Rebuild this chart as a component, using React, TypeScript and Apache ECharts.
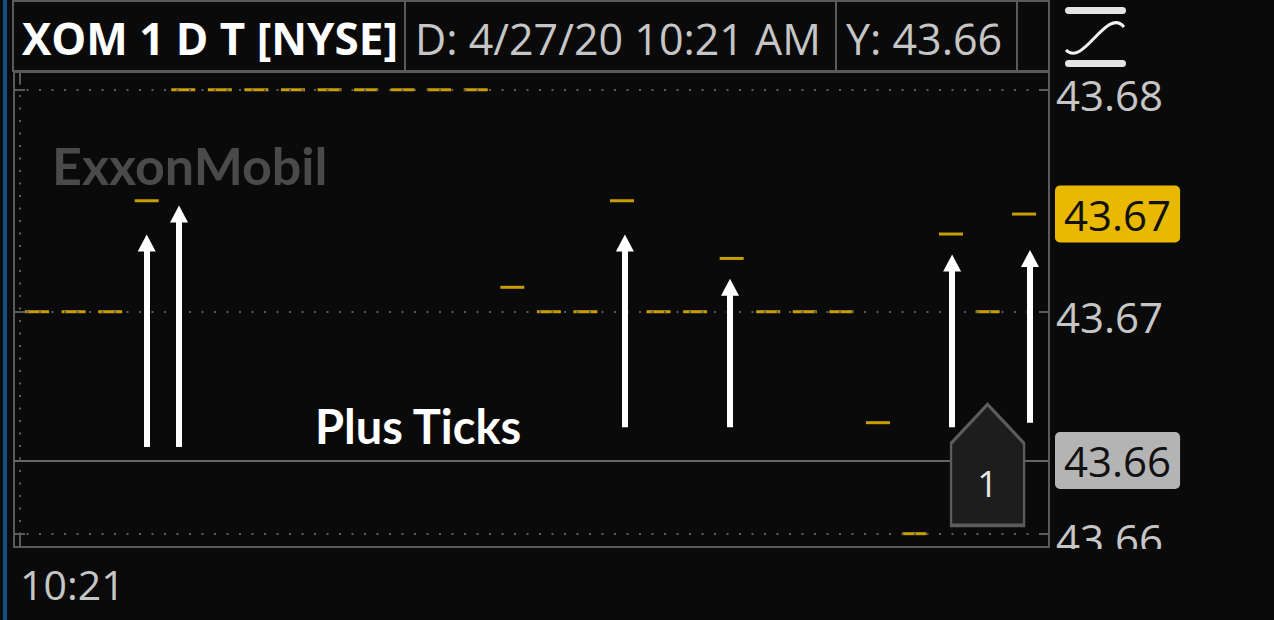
import React, { useEffect, useRef } from "react";
import * as echarts from "echarts";

// ---- data ----
const tickPrices = [
  43.67, 43.67, 43.67, 43.675,
  43.68, 43.68, 43.68, 43.68, 43.68, 43.68, 43.68, 43.68, 43.68,
  43.6711, 43.67, 43.67, 43.675, 43.67, 43.67, 43.6724,
  43.67, 43.67, 43.67, 43.665, 43.66, 43.6735, 43.67, 43.6744,
];
const tickIndex = tickPrices.map((_, i) => i);
const gridPrices = [43.66, 43.67, 43.68];
const timeGridPositions = [-0.465];
const timeLabels = ["10:21"];
const lastPrice = tickPrices[tickPrices.length - 1];
const cursorPrice = 43.6633;
const headerSymbol = "XOM 1 D T [NYSE]";
const cursorDate = "4/27/20 10:21 AM";
const tradeMarkerTick = [26];
const tradeMarkerPrice = [43.6631];
const tradeMarkerCount = [1];
const plusTickX = [3, 3.884, 16.08, 18.955, 25.03, 27.16];
const plusTickBase = [43.6639, 43.6639, 43.6648, 43.6648, 43.6648, 43.665];
const plusTickHead = [43.6731, 43.6744, 43.6731, 43.6711, 43.6722, 43.6724];
const annotationText = "Plus Ticks";
const logoText = "ExxonMobil";

const xMin = -0.63;
const xMax = 27.68;
const yMin = 43.6594;
const yMax = 43.6808;

const BG = "#0a0a0a";
const FRAME = "#5a5a5a";
const LABEL = "#c6c6c6";
const GOLD = "#f7c300";

export default function App() {
  const ref = useRef<HTMLDivElement>(null);
  useEffect(() => {
    document.body.style.margin = "0";
    document.body.style.background = BG;
    const chart = echarts.init(ref.current!, undefined, { renderer: "svg" });
    const fmtTime = (v: number) => {
      const k = timeGridPositions.findIndex((p) => Math.abs(p - v) < 1e-6);
      return k >= 0 ? timeLabels[k] : "";
    };
    const priceLabel = (bg: string) => ({
      show: true,
      position: "end",
      distance: 6,
      formatter: (p: any) => Number(p.value).toFixed(2),
      backgroundColor: bg,
      borderRadius: 5,
      padding: [8, 9, 7, 9],
      color: "#111111",
      fontSize: 42,
      lineHeight: 42,
      fontFamily: "Open Sans",
    });
    const option: any = {
      animation: false,
      backgroundColor: BG,
      grid: { left: 14, right: 225, top: 72, bottom: 73, containLabel: false },
      xAxis: [
        {
          type: "value",
          position: "bottom",
          min: xMin,
          max: xMax,
          axisLine: { show: true, onZero: false, lineStyle: { color: FRAME, width: 2 } },
          axisTick: { show: true, inside: true, length: 12, customValues: timeGridPositions, lineStyle: { color: FRAME, width: 2 } },
          axisLabel: {
            show: true,
            customValues: timeGridPositions,
            formatter: (v: number) => fmtTime(v),
            align: "left",
            margin: 16,
            color: LABEL,
            fontSize: 41,
            fontFamily: "Open Sans",
          },
          splitLine: { show: false },
        },
        {
          type: "value",
          position: "top",
          min: xMin,
          max: xMax,
          axisLine: { show: true, onZero: false, lineStyle: { color: FRAME, width: 2 } },
          axisTick: { show: true, inside: true, length: 11, customValues: timeGridPositions, lineStyle: { color: FRAME, width: 2 } },
          axisLabel: { show: false },
          splitLine: { show: false },
        },
      ],
      yAxis: [
        {
          type: "value",
          position: "right",
          min: yMin,
          max: yMax,
          axisLine: { show: true, onZero: false, lineStyle: { color: FRAME, width: 2 } },
          axisTick: { show: true, inside: true, length: 9, customValues: gridPrices, lineStyle: { color: FRAME, width: 2 } },
          axisLabel: {
            show: true,
            customValues: gridPrices,
            formatter: (v: number) => "{p|" + v.toFixed(2) + "}",
            margin: 7,
            rich: {
              p: { color: LABEL, fontSize: 42, fontFamily: "Open Sans", padding: [10, 0, 0, 0] },
            },
          },
          splitLine: { show: false },
        },
        {
          type: "value",
          position: "left",
          min: yMin,
          max: yMax,
          axisLine: { show: true, onZero: false, lineStyle: { color: FRAME, width: 2 } },
          axisTick: { show: true, inside: true, length: 11, customValues: gridPrices, lineStyle: { color: FRAME, width: 2 } },
          axisLabel: { show: false },
          splitLine: { show: false },
        },
      ],
      series: [
        {
          type: "scatter",
          data: [],
          silent: true,
          markLine: {
            silent: true,
            symbol: "none",
            precision: 4,
            label: { show: false },
            lineStyle: { type: [2, 10.5], color: "#5e5e5e", width: 2, cap: "butt" },
            data: [
              ...gridPrices.map((p) => ({ yAxis: p })),
              ...timeGridPositions.map((x) => ({ xAxis: x })),
            ],
          },
        },
        {
          type: "scatter",
          data: [],
          silent: true,
          markLine: {
            silent: true,
            symbol: "none",
            precision: 4,
            data: [
              {
                yAxis: cursorPrice,
                lineStyle: { type: "solid", color: "#666666", width: 2 },
                label: priceLabel("#b4b4b4"),
              },
              {
                yAxis: lastPrice,
                lineStyle: { color: "rgba(0,0,0,0)", width: 0 },
                label: priceLabel("#e8b900"),
              },
            ],
          },
        },
        {
          type: "scatter",
          name: "ticks",
          data: tickIndex.map((i) => [i, tickPrices[i]]),
          symbol: "rect",
          symbolSize: [24, 3],
          itemStyle: { color: GOLD },
          z: 3,
          silent: true,
        },
        {
          type: "scatter",
          data: [],
          silent: true,
          z: 5,
          markPoint: {
            silent: true,
            symbol: "path://M36.5,0 L73,39 L73,121 L0,121 L0,39 Z",
            symbolSize: [73, 121],
            itemStyle: { color: "#1d1d1d", borderColor: "#5c5c5c", borderWidth: 3 },
            label: {
              show: true,
              position: "inside",
              formatter: "{c}",
              offset: [0, 19],
              color: "#e6e6e6",
              fontSize: 36,
              fontFamily: "Open Sans",
            },
            data: tradeMarkerTick.map((t, k) => ({ coord: [t, tradeMarkerPrice[k]], value: tradeMarkerCount[k] })),
          },
        },
        {
          type: "scatter",
          data: [],
          silent: true,
          z: 6,
          markLine: {
            silent: true,
            symbol: ["none", "triangle"],
            symbolSize: [18, 17],
            precision: 4,
            label: { show: false },
            lineStyle: { type: "solid", color: "#ffffff", width: 6, opacity: 1 },
            itemStyle: { color: "#ffffff" },
            data: plusTickX.map((x, k) => [
              { coord: [x, plusTickBase[k]] },
              { coord: [x, plusTickHead[k]] },
            ]),
          },
        },
      ],
      graphic: [
        { type: "rect", z: 1, shape: { x: 3, y: 0, width: 4, height: 620 }, style: { fill: "#134f80" } },
        { type: "rect", z: 1, shape: { x: 13, y: 1, width: 1036, height: 70 }, style: { fill: "none", stroke: FRAME, lineWidth: 2 } },
        { type: "line", z: 1, shape: { x1: 405, y1: 1, x2: 405, y2: 71 }, style: { stroke: FRAME, lineWidth: 2 } },
        { type: "line", z: 1, shape: { x1: 836, y1: 1, x2: 836, y2: 71 }, style: { stroke: FRAME, lineWidth: 2 } },
        { type: "line", z: 1, shape: { x1: 1017, y1: 1, x2: 1017, y2: 71 }, style: { stroke: FRAME, lineWidth: 2 } },
        { type: "line", z: 1, shape: { x1: 1049, y1: 0, x2: 1049, y2: 72 }, style: { stroke: FRAME, lineWidth: 2 } },
        {
          type: "text", z: 2, x: 22, y: 38,
          style: { text: headerSymbol, fill: "#ffffff", fontSize: 44, fontWeight: "bold", fontFamily: "Open Sans", verticalAlign: "middle" },
        },
        {
          type: "text", z: 2, x: 415, y: 38,
          style: { text: "D: " + cursorDate, fill: LABEL, fontSize: 43, fontFamily: "Open Sans", verticalAlign: "middle" },
        },
        {
          type: "text", z: 2, x: 846, y: 38,
          style: { text: "Y: " + cursorPrice.toFixed(2), fill: LABEL, fontSize: 43, fontFamily: "Open Sans", verticalAlign: "middle" },
        },
        { type: "rect", z: 2, shape: { x: 1065, y: 7, width: 61, height: 7, r: 3.5 }, style: { fill: "#e4e4e4" } },
        { type: "rect", z: 2, shape: { x: 1065, y: 60, width: 61, height: 7, r: 3.5 }, style: { fill: "#e4e4e4" } },
        {
          type: "bezierCurve", z: 2,
          shape: { x1: 1066, y1: 50, cpx1: 1083, cpy1: 68, cpx2: 1107, cpy2: 6, x2: 1124, y2: 27 },
          style: { stroke: "#f0f0f0", lineWidth: 3, fill: "none" },
        },
        {
          type: "text", z: 0, x: 52, y: 165,
          style: { text: logoText, fill: "#4a4a4a", fontSize: 52, fontWeight: "bold", fontFamily: "Lato", verticalAlign: "middle" },
        },
        {
          type: "text", z: 10, x: 315, y: 426,
          style: { text: annotationText, fill: "#ffffff", fontSize: 47, fontWeight: "bold", fontFamily: "Lato", verticalAlign: "middle" },
        },
        { type: "rect", z: 50, shape: { x: 1050, y: 549, width: 224, height: 18 }, style: { fill: BG } },
      ],
    };
    chart.setOption(option);
    return () => chart.dispose();
  }, []);
  return (
    <div
      ref={ref}
      style={{ position: "fixed", left: 0, top: 0, width: 1274, height: 620, background: BG }}
    />
  );
}
